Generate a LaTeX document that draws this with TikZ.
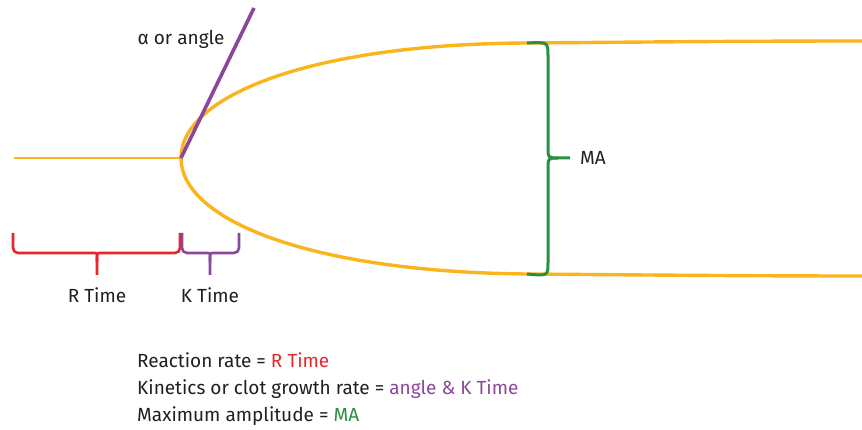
\documentclass[tikz,border=0pt]{standalone}
\usepackage{fontspec}
\setmainfont{Fira Sans}
\definecolor{curveY}{HTML}{F9B51B}
\definecolor{redB}{HTML}{E5262B}
\definecolor{purpB}{HTML}{8B479B}
\definecolor{greenB}{HTML}{2A8F45}
\definecolor{txt}{HTML}{231F20}
\begin{document}
\begin{tikzpicture}[x=1pt,y=-1pt,
  trace/.style={draw=curveY,line width=3.4pt},
  bracer/.style={draw=redB,line width=2.6pt},
  bracep/.style={draw=purpB,line width=2.6pt},
  braceg/.style={draw=greenB,line width=3pt},
  lbl/.style={text=txt,font=\fontsize{19}{22}\selectfont,inner sep=0pt}]
\useasboundingbox (0,0) rectangle (862,430);
% key points
\coordinate (start) at (14,158);
\coordinate (split) at (181,158);
\coordinate (upA) at (527,43);
\coordinate (upB) at (862,41);
\coordinate (loA) at (527,274);
\coordinate (loB) at (862,276);
\coordinate (atip) at (254,8);
% tracing
\draw[draw=curveY,line width=2.6pt] (start) -- (split);
\draw[trace] (upA) .. controls (310,44) and (181,96) .. (split)
  .. controls (181,220) and (310,272) .. (loA);
\draw[trace] (upA) .. controls (650,42) and (750,41) .. (upB);
\draw[trace] (loA) .. controls (650,275) and (750,276) .. (loB);
% angle line
\draw[draw=purpB,line width=3.6pt] (split) -- (atip);
\node[lbl,anchor=base] (alpha) at (181,45) {α or angle};
% R brace
\coordinate (r1) at (13,233);
\coordinate (r2) at (180,233);
\coordinate (rt) at (97,275);
\draw[bracer,rounded corners=5pt] (r1) -- (13,253) -- (90,253) .. controls (97,253) .. (rt|-0,262) -- (rt);
\draw[bracer,rounded corners=5pt] (r2) -- (180,253) -- (104,253) .. controls (97,253) .. (rt|-0,262);
\node[lbl,anchor=base] (rtime) at (97,303) {R Time};
% K brace
\coordinate (k1) at (182,233);
\coordinate (k2) at (239,233);
\coordinate (kt) at (210,275);
\draw[bracep,rounded corners=5pt] (k1) -- (182,253) -- (203,253) .. controls (210,253) .. (kt|-0,262) -- (kt);
\draw[bracep,rounded corners=5pt] (k2) -- (239,253) -- (217,253) .. controls (210,253) .. (kt|-0,262);
\node[lbl,anchor=base] (ktime) at (210,303) {K Time};
% MA brace
\coordinate (mt) at (570,158);
\draw[braceg] (upA) .. controls (548,42) .. (548,56) -- (548,146) .. controls (548,158) .. (558,158) -- (mt);
\draw[braceg] (loA) .. controls (548,276) .. (548,262) -- (548,170) .. controls (548,158) .. (558,158);
\node[lbl,anchor=base west] (ma) at (580,165) {MA};
% legend
\node[lbl,anchor=base west] (l1) at (137,367) {Reaction rate = \textcolor{redB}{R Time}};
\node[lbl,anchor=base west] (l2) at (137,394) {Kinetics or clot growth rate = \textcolor{purpB}{angle \& K Time}};
\node[lbl,anchor=base west] (l3) at (137,421) {Maximum amplitude = \textcolor{greenB}{MA}};
\end{tikzpicture}
\end{document}
